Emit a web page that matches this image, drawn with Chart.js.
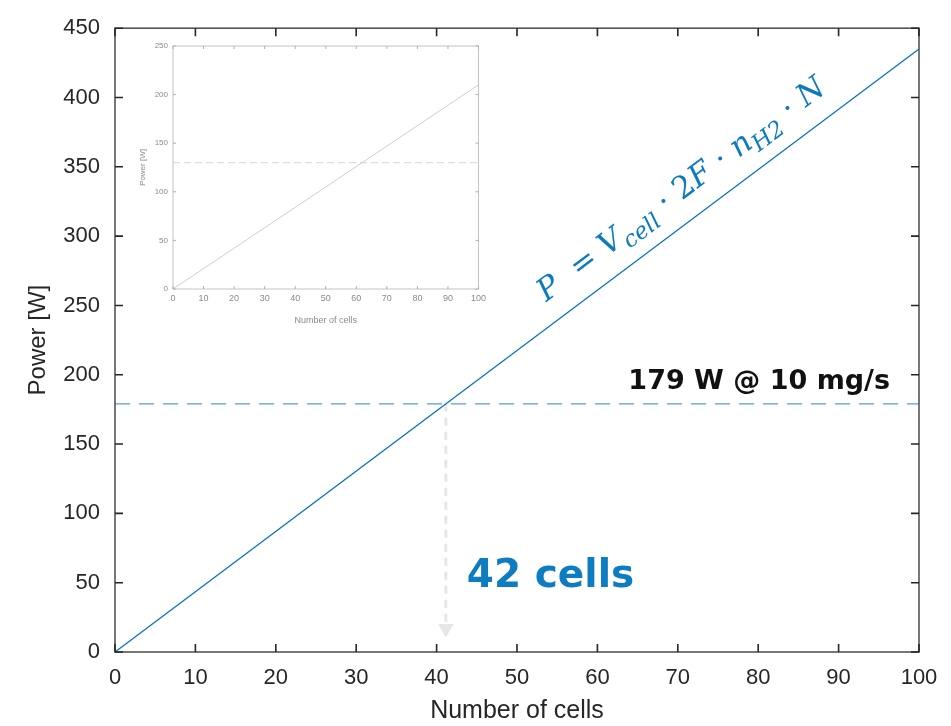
<!DOCTYPE html>
<html lang="en">
<head>
  <meta charset="utf-8">
  <title>Stack power vs. number of cells</title>
  <script src="https://cdn.jsdelivr.net/npm/chart.js"></script>
  <style>
    body { margin: 0; background: #fff; }
    #wrap { position: relative; width: 951px; height: 726px; }
    #mainChart { position: absolute; left: 0; top: 0; }
    #insetChart { position: absolute; left: 120px; top: 36px; }
  </style>
</head>
<body>
  <div id="wrap">
    <canvas id="mainChart" width="951" height="726"></canvas>
    <canvas id="insetChart" width="370" height="290"></canvas>
  </div>
  <script>
    // stack power against number of cells
    const cells = [0, 100];
    const power = [0, 435];
    const targetPower = 179;      // W @ 10 mg/s of H2
    const targetLabel = '179 W @ 10 mg/s';
    const arrowStop = 17;         // arrow head sits just above the x axis

    // small plot in the upper left corner
    const insetCells = [0, 100];
    const insetPower = [0, 210];
    const insetTarget = 130;

    const slope = (power[1] - power[0]) / (cells[1] - cells[0]);
    const cellsAtTarget = targetPower / slope;
    const cellsLabel = Math.ceil(cellsAtTarget) + ' cells';

    const pts = (xs, ys) => xs.map((v, i) => ({x: v, y: ys[i]}));

    // box round the plot area with inward ticks on all four sides
    const frameTicks = {
      id: 'frameTicks',
      afterDatasetsDraw(chart, args, opts) {
        const {ctx, chartArea: a, scales: {x, y}} = chart;
        ctx.save();
        ctx.strokeStyle = opts.color;
        ctx.lineWidth = opts.width;
        ctx.strokeRect(a.left, a.top, a.right - a.left, a.bottom - a.top);
        ctx.strokeStyle = opts.tickColor;
        ctx.beginPath();
        x.ticks.forEach(t => {
          const px = x.getPixelForValue(t.value);
          ctx.moveTo(px, a.bottom); ctx.lineTo(px, a.bottom - opts.len);
          ctx.moveTo(px, a.top); ctx.lineTo(px, a.top + opts.len);
        });
        y.ticks.forEach(t => {
          const py = y.getPixelForValue(t.value);
          ctx.moveTo(a.left, py); ctx.lineTo(a.left + opts.len, py);
          ctx.moveTo(a.right, py); ctx.lineTo(a.right - opts.len, py);
        });
        ctx.stroke();
        ctx.restore();
      }
    };

    function drawEquation(ctx, x0, y0, angle, size, color) {
      const runs = [
        ['P', true, false], ['  = ', false, false], ['V', true, false], ['cell', true, true],
        [' \u00b7 2', false, false], ['F', true, false], [' \u00b7 ', false, false],
        ['n', true, false], ['H2', true, true], [' \u00b7 ', false, false], ['N', true, false]
      ];
      ctx.save();
      ctx.translate(x0, y0);
      ctx.rotate(angle);
      ctx.fillStyle = color;
      ctx.textBaseline = 'alphabetic';
      let cx = 0;
      runs.forEach(([txt, it, sub]) => {
        const s = sub ? size * 0.74 : size;
        ctx.font = (it ? 'italic ' : '') + s + 'px "DejaVu Serif"';
        ctx.fillText(txt, cx, sub ? size * 0.24 : 0);
        cx += ctx.measureText(txt).width;
      });
      ctx.restore();
    }

    const notes = {
      id: 'notes',
      afterDatasetsDraw(chart) {
        const {ctx, scales: {x, y}} = chart;
        ctx.save();
        ctx.fillStyle = '#111';
        ctx.font = 'bold 27px "DejaVu Sans"';
        ctx.textAlign = 'right';
        ctx.fillText(targetLabel, x.getPixelForValue(96.4), y.getPixelForValue(targetPower) - 15);

        ctx.fillStyle = '#0e7cc1';
        ctx.font = 'bold 39px "DejaVu Sans"';
        ctx.textAlign = 'left';
        ctx.fillText(cellsLabel, x.getPixelForValue(cellsAtTarget) + 21, y.getPixelForValue(47));
        ctx.restore();

        // formula written along the power line
        const xa = x.getPixelForValue(cells[0]), ya = y.getPixelForValue(power[0]);
        const xb = x.getPixelForValue(cells[1]), yb = y.getPixelForValue(power[1]);
        const ang = Math.atan2(yb - ya, xb - xa);
        const fx = x.getPixelForValue(55.2), fy = y.getPixelForValue(55.2 * slope);
        const off = 21;
        drawEquation(ctx, fx + Math.sin(ang) * off, fy - Math.cos(ang) * off, ang, 31, '#0b7bc0');
      }
    };

    Chart.register(frameTicks);

    new Chart(document.getElementById('mainChart'), {
      type: 'line',
      data: {
        datasets: [{
          data: pts(cells, power),
          borderColor: '#0072bd',
          borderWidth: 1.3,
          pointRadius: 0,
          order: 0
        }, {
          data: pts(cells, [targetPower, targetPower]),
          borderColor: '#5b9bd5',
          borderWidth: 1.3,
          borderDash: [15, 9],
          pointRadius: 0,
          order: 1
        }, {
          data: [{x: cellsAtTarget, y: targetPower}, {x: cellsAtTarget, y: arrowStop}],
          borderColor: '#e6e6e6',
          borderWidth: 3,
          borderDash: [8, 6],
          pointStyle: 'triangle',
          pointRadius: [0, 9],
          pointRotation: 180,
          pointBackgroundColor: '#e6e6e6',
          pointBorderWidth: 0,
          order: 2
        }]
      },
      options: {
        responsive: false,
        animation: false,
        layout: { padding: { top: 16, right: 32, left: 0, bottom: 0 } },
        plugins: {
          legend: { display: false },
          tooltip: { enabled: false },
          frameTicks: { color: '#555', tickColor: '#262626', width: 1.6, len: 8 }
        },
        scales: {
          x: {
            type: 'linear',
            min: 0,
            max: 100,
            grid: { display: false, drawTicks: false },
            border: { display: false },
            ticks: { stepSize: 10, padding: 13, color: '#262626', font: { family: 'Liberation Sans', size: 22 } },
            title: { display: true, text: 'Number of cells', color: '#262626', padding: { top: -3, bottom: 0 }, font: { family: 'Liberation Sans', size: 25 } },
            afterFit: s => { s.height = 74; }
          },
          y: {
            min: 0,
            max: 450,
            grid: { display: false, drawTicks: false },
            border: { display: false },
            ticks: { stepSize: 50, padding: 15, color: '#262626', font: { family: 'Liberation Sans', size: 22 } },
            title: { display: true, text: 'Power [W]', color: '#262626', padding: { top: 24, bottom: 0 }, font: { family: 'Liberation Sans', size: 24 } },
            afterFit: s => { s.width = 115; }
          }
        }
      },
      plugins: [notes]
    });

    const grey = '#8a8a8a';
    new Chart(document.getElementById('insetChart'), {
      type: 'line',
      data: {
        datasets: [{
          data: pts(insetCells, insetPower),
          borderColor: '#cfcfcf',
          borderWidth: 1,
          pointRadius: 0
        }, {
          data: pts(insetCells, [insetTarget, insetTarget]),
          borderColor: '#dcdcdc',
          borderWidth: 1.2,
          borderDash: [7, 4],
          pointRadius: 0
        }]
      },
      options: {
        responsive: false,
        animation: false,
        layout: { padding: { top: 10, right: 10, left: 0, bottom: 0 } },
        plugins: {
          legend: { display: false },
          tooltip: { enabled: false },
          frameTicks: { color: '#c4c4c4', tickColor: '#b0b0b0', width: 1, len: 3 }
        },
        scales: {
          x: {
            type: 'linear',
            min: 0,
            max: 100,
            grid: { display: false, drawTicks: false },
            border: { display: false },
            ticks: { stepSize: 10, padding: 4, color: grey, font: { family: 'Liberation Sans', size: 9 } },
            title: { display: true, text: 'Number of cells', color: grey, padding: { top: 8, bottom: 0 }, font: { family: 'Liberation Sans', size: 9 } },
            afterFit: s => { s.height = 37; }
          },
          y: {
            min: 0,
            max: 250,
            grid: { display: false, drawTicks: false },
            border: { display: false },
            ticks: { stepSize: 50, padding: 5, color: grey, font: { family: 'Liberation Sans', size: 8 } },
            title: { display: true, text: 'Power [W]', color: grey, padding: { top: 18, bottom: 0 }, font: { family: 'Liberation Sans', size: 8 } },
            afterFit: s => { s.width = 53; }
          }
        }
      }
    });
  </script>
</body>
</html>
